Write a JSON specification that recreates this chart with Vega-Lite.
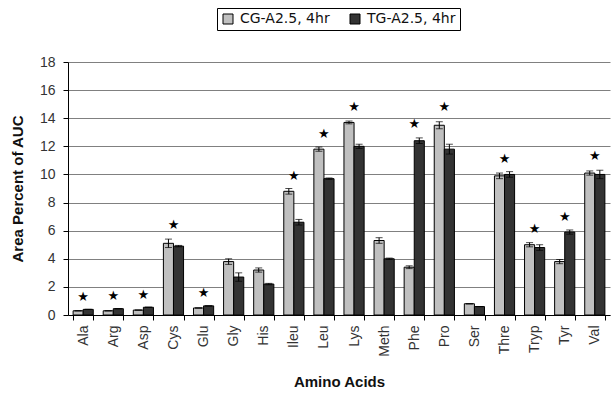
{
  "$schema": "https://vega.github.io/schema/vega-lite/v6.json",
  "width": 542,
  "height": 253,
  "autosize": {"type": "none"},
  "padding": {"left": 68, "top": 62, "right": 1, "bottom": 78},
  "background": "white",
  "config": {
    "font": "Liberation Sans",
    "view": {"stroke": null},
    "axis": {"labelFont": "Liberation Sans", "titleFont": "Liberation Sans", "labelColor": "#222", "titleColor": "#111"},
    "axisY": {"tickCount": 9, "labelOverlap": false, "labelFlush": false}
  },
  "datasets": {
    "bars": [
      {"aa": "Ala", "grp": "CG-A2.5, 4hr", "value": 0.3, "lo": 0.3, "hi": 0.3},
      {"aa": "Ala", "grp": "TG-A2.5, 4hr", "value": 0.4, "lo": 0.4, "hi": 0.4},
      {"aa": "Arg", "grp": "CG-A2.5, 4hr", "value": 0.3, "lo": 0.3, "hi": 0.3},
      {"aa": "Arg", "grp": "TG-A2.5, 4hr", "value": 0.45, "lo": 0.45, "hi": 0.45},
      {"aa": "Asp", "grp": "CG-A2.5, 4hr", "value": 0.35, "lo": 0.35, "hi": 0.35},
      {"aa": "Asp", "grp": "TG-A2.5, 4hr", "value": 0.55, "lo": 0.55, "hi": 0.55},
      {"aa": "Cys", "grp": "CG-A2.5, 4hr", "value": 5.1, "lo": 4.8, "hi": 5.4},
      {"aa": "Cys", "grp": "TG-A2.5, 4hr", "value": 4.9, "lo": 4.85, "hi": 4.95},
      {"aa": "Glu", "grp": "CG-A2.5, 4hr", "value": 0.5, "lo": 0.5, "hi": 0.5},
      {"aa": "Glu", "grp": "TG-A2.5, 4hr", "value": 0.65, "lo": 0.65, "hi": 0.65},
      {"aa": "Gly", "grp": "CG-A2.5, 4hr", "value": 3.8, "lo": 3.6, "hi": 4.0},
      {"aa": "Gly", "grp": "TG-A2.5, 4hr", "value": 2.7, "lo": 2.4, "hi": 3.0},
      {"aa": "His", "grp": "CG-A2.5, 4hr", "value": 3.2, "lo": 3.05, "hi": 3.35},
      {"aa": "His", "grp": "TG-A2.5, 4hr", "value": 2.2, "lo": 2.15, "hi": 2.25},
      {"aa": "Ileu", "grp": "CG-A2.5, 4hr", "value": 8.8, "lo": 8.6, "hi": 9.0},
      {"aa": "Ileu", "grp": "TG-A2.5, 4hr", "value": 6.6, "lo": 6.4, "hi": 6.8},
      {"aa": "Leu", "grp": "CG-A2.5, 4hr", "value": 11.8, "lo": 11.65, "hi": 11.95},
      {"aa": "Leu", "grp": "TG-A2.5, 4hr", "value": 9.7, "lo": 9.65, "hi": 9.75},
      {"aa": "Lys", "grp": "CG-A2.5, 4hr", "value": 13.7, "lo": 13.6, "hi": 13.8},
      {"aa": "Lys", "grp": "TG-A2.5, 4hr", "value": 12.0, "lo": 11.85, "hi": 12.15},
      {"aa": "Meth", "grp": "CG-A2.5, 4hr", "value": 5.3, "lo": 5.1, "hi": 5.5},
      {"aa": "Meth", "grp": "TG-A2.5, 4hr", "value": 4.0, "lo": 3.95, "hi": 4.05},
      {"aa": "Phe", "grp": "CG-A2.5, 4hr", "value": 3.4, "lo": 3.3, "hi": 3.5},
      {"aa": "Phe", "grp": "TG-A2.5, 4hr", "value": 12.4, "lo": 12.2, "hi": 12.6},
      {"aa": "Pro", "grp": "CG-A2.5, 4hr", "value": 13.5, "lo": 13.25, "hi": 13.75},
      {"aa": "Pro", "grp": "TG-A2.5, 4hr", "value": 11.8, "lo": 11.45, "hi": 12.15},
      {"aa": "Ser", "grp": "CG-A2.5, 4hr", "value": 0.8, "lo": 0.8, "hi": 0.8},
      {"aa": "Ser", "grp": "TG-A2.5, 4hr", "value": 0.6, "lo": 0.6, "hi": 0.6},
      {"aa": "Thre", "grp": "CG-A2.5, 4hr", "value": 9.9, "lo": 9.7, "hi": 10.1},
      {"aa": "Thre", "grp": "TG-A2.5, 4hr", "value": 10.0, "lo": 9.8, "hi": 10.2},
      {"aa": "Tryp", "grp": "CG-A2.5, 4hr", "value": 5.0, "lo": 4.85, "hi": 5.15},
      {"aa": "Tryp", "grp": "TG-A2.5, 4hr", "value": 4.8, "lo": 4.6, "hi": 5.0},
      {"aa": "Tyr", "grp": "CG-A2.5, 4hr", "value": 3.8, "lo": 3.65, "hi": 3.95},
      {"aa": "Tyr", "grp": "TG-A2.5, 4hr", "value": 5.9, "lo": 5.75, "hi": 6.05},
      {"aa": "Val", "grp": "CG-A2.5, 4hr", "value": 10.1, "lo": 9.95, "hi": 10.25},
      {"aa": "Val", "grp": "TG-A2.5, 4hr", "value": 10.0, "lo": 9.7, "hi": 10.3}
    ],
    "stars": [
      {"aa": "Ala", "ys": 1.3},
      {"aa": "Arg", "ys": 1.35},
      {"aa": "Asp", "ys": 1.4},
      {"aa": "Cys", "ys": 6.4},
      {"aa": "Glu", "ys": 1.6},
      {"aa": "Ileu", "ys": 9.9},
      {"aa": "Leu", "ys": 12.9},
      {"aa": "Lys", "ys": 14.8},
      {"aa": "Phe", "ys": 13.6},
      {"aa": "Pro", "ys": 14.8},
      {"aa": "Thre", "ys": 11.1},
      {"aa": "Tryp", "ys": 6.1},
      {"aa": "Tyr", "ys": 7.0},
      {"aa": "Val", "ys": 11.3}
    ]
  },
  "encoding": {
    "x": {
      "field": "aa", "type": "nominal", "sort": null,
      "scale": {"paddingInner": 0.33, "paddingOuter": 0.17},
      "axis": {
        "title": "Amino Acids", "titleFontSize": 15, "titleFontWeight": "bold", "titlePadding": 18,
        "labelAngle": 270, "labelFontSize": 14, "labelPadding": 5, "labelColor": "#333",
        "domainColor": "black", "tickColor": "black", "tickBand": "extent", "tickSize": 5
      }
    }
  },
  "layer": [
    {
      "data": {"name": "bars"},
      "mark": {"type": "bar", "stroke": "black", "strokeWidth": 1},
      "encoding": {
        "xOffset": {"field": "grp", "type": "nominal"},
        "y": {
          "field": "value", "type": "quantitative",
          "scale": {"domain": [0, 18], "nice": false},
          "axis": {
            "title": "Area Percent of AUC", "titleFontSize": 15, "titleFontWeight": "bold", "titlePadding": 14,
            "labelFontSize": 14, "labelColor": "#333", "labelPadding": 8,
            "gridColor": "#808080", "gridWidth": 1, "gridOpacity": 1,
            "domainColor": "black", "tickColor": "black", "tickSize": 5
          }
        },
        "fill": {
          "field": "grp", "type": "nominal",
          "scale": {"range": ["#c0c0c0", "#333333"]},
          "legend": {
            "title": null, "orient": "none", "direction": "horizontal",
            "legendX": 149, "legendY": -54,
            "symbolType": "square", "symbolSize": 100, "symbolStrokeColor": "black", "symbolStrokeWidth": 1,
            "labelFont": "DejaVu Sans", "labelFontSize": 14, "labelColor": "#111", "columnPadding": 18, "labelOffset": 5,
            "strokeColor": "black", "padding": 4
          }
        }
      }
    },
    {
      "data": {"name": "bars"},
      "mark": {"type": "rule", "color": "black", "strokeWidth": 1},
      "encoding": {
        "xOffset": {"field": "grp", "type": "nominal"},
        "y": {"field": "lo", "type": "quantitative"},
        "y2": {"field": "hi"}
      }
    },
    {
      "data": {"name": "bars"},
      "mark": {"type": "tick", "color": "black", "size": 7, "thickness": 1},
      "encoding": {
        "xOffset": {"field": "grp", "type": "nominal"},
        "y": {"field": "lo", "type": "quantitative"}
      }
    },
    {
      "data": {"name": "bars"},
      "mark": {"type": "tick", "color": "black", "size": 7, "thickness": 1},
      "encoding": {
        "xOffset": {"field": "grp", "type": "nominal"},
        "y": {"field": "hi", "type": "quantitative"}
      }
    },
    {
      "data": {"name": "stars"},
      "mark": {"type": "text", "text": "★", "fontSize": 13, "color": "black", "font": "DejaVu Sans"},
      "encoding": {
        "y": {"field": "ys", "type": "quantitative"}
      }
    }
  ]
}
